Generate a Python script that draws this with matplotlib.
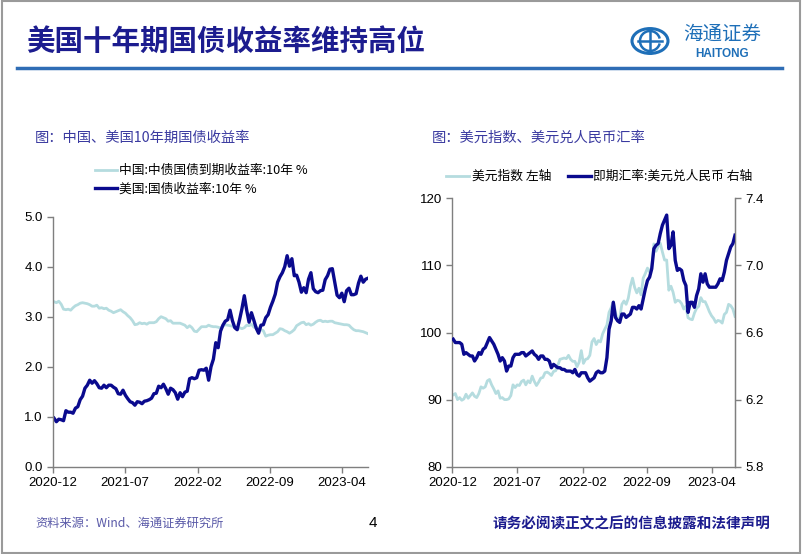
import numpy as np
import pandas as pd
import matplotlib
matplotlib.use("Agg")
import matplotlib.pyplot as plt
import matplotlib.dates as mdates
from matplotlib.lines import Line2D
from matplotlib.patches import Circle, Rectangle, Arc

# ===================== FONTS =====================
plt.rcParams["font.family"] = ["Noto Sans CJK SC", "DejaVu Sans"]
plt.rcParams["axes.unicode_minus"] = False
NUM_FONT = "Liberation Sans"

# ===================== DATA (weekly, Fridays) =====================
# 2020-12-04 .. 2023-06-16
us_10y = [
    0.97, 0.90, 0.95, 0.94,                     # 2020-12
    0.92, 1.12, 1.09, 1.09, 1.07,               # 2021-01
    1.17, 1.20, 1.34, 1.41,                     # 2021-02
    1.57, 1.63, 1.73, 1.67,                     # 2021-03
    1.72, 1.66, 1.58, 1.57, 1.63,               # 2021-04
    1.58, 1.63, 1.63, 1.59,                     # 2021-05
    1.56, 1.46, 1.45, 1.53,                     # 2021-06
    1.43, 1.36, 1.30, 1.28, 1.23,               # 2021-07
    1.30, 1.29, 1.26, 1.31,                     # 2021-08
    1.32, 1.34, 1.37, 1.46,                     # 2021-09
    1.47, 1.61, 1.58, 1.65, 1.56,               # 2021-10
    1.45, 1.57, 1.54, 1.48,                     # 2021-11
    1.35, 1.48, 1.40, 1.49, 1.51,               # 2021-12
    1.76, 1.78, 1.76, 1.78,                     # 2022-01
    1.93, 1.94, 1.93, 1.97,                     # 2022-02
    1.73, 2.00, 2.15, 2.48,                     # 2022-03
    2.38, 2.71, 2.83, 2.91, 2.94,               # 2022-04
    3.13, 2.92, 2.78, 2.74,                     # 2022-05
    2.94, 3.16, 3.42, 3.13,                     # 2022-06
    2.89, 3.08, 2.93, 2.77, 2.67,               # 2022-07
    2.83, 2.84, 2.98, 3.04,                     # 2022-08
    3.19, 3.31, 3.45, 3.69, 3.80,               # 2022-09
    3.88, 4.00, 4.22, 4.01,                     # 2022-10
    4.16, 3.82, 3.83, 3.69,                     # 2022-11
    3.49, 3.58, 3.48, 3.75, 3.88,               # 2022-12
    3.56, 3.50, 3.48, 3.52,                     # 2023-01
    3.53, 3.74, 3.82, 3.95,                     # 2023-02
    3.96, 3.70, 3.43, 3.38, 3.47,               # 2023-03
    3.30, 3.52, 3.57, 3.44,                     # 2023-04
    3.44, 3.46, 3.67, 3.81,                     # 2023-05
    3.69, 3.75, 3.77,                           # 2023-06
]
cn_10y = [
    3.30, 3.28, 3.31, 3.25,
    3.15, 3.14, 3.15, 3.13, 3.18,
    3.22, 3.24, 3.27, 3.28,
    3.27, 3.26, 3.24, 3.21,
    3.21, 3.23, 3.17, 3.18, 3.16,
    3.17, 3.13, 3.11, 3.08,
    3.10, 3.12, 3.14, 3.10,
    3.07, 3.02, 2.98, 2.92, 2.84,
    2.85, 2.88, 2.86, 2.87,
    2.85, 2.88, 2.88, 2.88,
    2.90, 2.96, 3.00, 2.98, 2.96,
    2.91, 2.92, 2.87, 2.87,
    2.87, 2.87, 2.85, 2.83, 2.78,
    2.82, 2.78, 2.71, 2.70,
    2.75, 2.80, 2.80, 2.80,
    2.83, 2.81, 2.80, 2.80,
    2.79, 2.77, 2.81, 2.84, 2.83,
    2.82, 2.81, 2.79, 2.74,
    2.78, 2.76, 2.78, 2.83,
    2.82, 2.85, 2.79, 2.79, 2.76,
    2.74, 2.72, 2.61, 2.63,
    2.64, 2.64, 2.67, 2.70, 2.76,
    2.75, 2.72, 2.70, 2.67,
    2.70, 2.74, 2.82, 2.85,
    2.88, 2.89, 2.84, 2.86, 2.83,
    2.85, 2.89, 2.92, 2.93,
    2.90, 2.91, 2.90, 2.91,
    2.91, 2.88, 2.87, 2.86, 2.85,
    2.84, 2.84, 2.83, 2.78,
    2.74, 2.72, 2.72, 2.71,
    2.70, 2.68, 2.66,
]
dxy = [
    90.7, 90.9, 90.0, 90.3,
    89.9, 90.1, 90.8, 90.2, 90.6,
    91.0, 90.5, 90.3, 90.9,
    91.9, 91.7, 91.9, 92.8,
    93.0, 92.2, 91.6, 90.9, 91.3,
    90.2, 90.3, 90.0, 90.0,
    90.1, 90.6, 92.2, 91.8,
    92.2, 92.1, 92.7, 92.9, 92.2,
    92.8, 92.5, 93.5, 92.7,
    92.1, 92.6, 93.2, 93.3,
    94.0, 94.1, 93.9, 93.6, 94.2,
    94.3, 95.1, 96.0, 96.1,
    96.2, 96.1, 96.6, 96.0, 95.7,
    95.7, 94.9, 95.6, 97.3,
    95.4, 96.0, 96.1, 96.6,
    98.6, 99.1, 98.2, 98.8,
    98.6, 99.8, 100.5, 101.1, 103.0,
    103.7, 104.6, 103.0, 101.7,
    102.2, 104.2, 104.7, 104.2,
    105.1, 106.9, 108.1, 106.7, 105.9,
    106.6, 105.6, 108.1, 108.8,
    109.6, 109.0, 109.8, 113.2, 112.1,
    112.8, 113.3, 112.0, 110.8,
    110.8, 106.3, 106.9, 106.0,
    104.5, 104.8, 104.7, 104.3, 103.5,
    103.9, 102.2, 102.0, 101.9,
    102.9, 103.6, 103.9, 105.2,
    104.6, 104.6, 103.9, 103.1, 102.5,
    102.1, 101.5, 101.8, 101.7,
    101.4, 102.7, 103.0, 104.2,
    104.0, 103.5, 102.4,
]
usdcny = [
    6.56, 6.54, 6.54, 6.54,
    6.53, 6.47, 6.48, 6.47, 6.46,
    6.46, 6.43, 6.45, 6.48,
    6.47, 6.50, 6.51, 6.54,
    6.57, 6.55, 6.53, 6.50, 6.47,
    6.43, 6.45, 6.43, 6.37,
    6.40, 6.40, 6.45, 6.47,
    6.47, 6.47, 6.48, 6.48, 6.46,
    6.47, 6.48, 6.49, 6.47,
    6.46, 6.44, 6.46, 6.46,
    6.44, 6.44, 6.43, 6.39, 6.41,
    6.40, 6.39, 6.39, 6.38,
    6.38, 6.37, 6.37, 6.37, 6.36,
    6.38, 6.35, 6.34, 6.36,
    6.36, 6.36, 6.33, 6.31,
    6.32, 6.33, 6.36, 6.37,
    6.36, 6.36, 6.37, 6.45, 6.62,
    6.67, 6.78, 6.69, 6.67,
    6.66, 6.71, 6.71, 6.69,
    6.70, 6.71, 6.75, 6.75, 6.74,
    6.76, 6.74, 6.80, 6.86,
    6.91, 6.93, 6.98, 7.10, 7.12,
    7.13, 7.19, 7.24, 7.27,
    7.30, 7.10, 7.12, 7.20,
    7.03, 6.97, 6.98, 6.97, 6.91,
    6.88, 6.72, 6.78, 6.78,
    6.75, 6.82, 6.86, 6.95,
    6.90, 6.95, 6.89, 6.87, 6.87,
    6.87, 6.87, 6.89, 6.92,
    6.91, 6.96, 7.03, 7.07,
    7.11, 7.13, 7.18,
]
dates = pd.date_range("2020-12-04", periods=len(us_10y), freq="W-FRI")
assert len(cn_10y) == len(dxy) == len(usdcny) == len(us_10y)

x_ticks = ["2020-12-01", "2021-07-01", "2022-02-01", "2022-09-01", "2023-04-01"]
x_start, x_end = "2020-12-01", "2023-06-16"

LIGHT = "#B5DCDF"
DARK = "#0A0A8E"
AXCOL = "#7F7F7F"
TXT_BLUE = "#3A3AA0"

W, H = 802, 554
fig = plt.figure(figsize=(W / 100, H / 100), dpi=100)


def fx(px):
    return px / W


def fy(py):
    return 1 - py / H


def style_axes(ax, right=False):
    ax.spines["top"].set_visible(False)
    ax.spines["right"].set_visible(right)
    for s in ["left", "bottom", "right"]:
        ax.spines[s].set_color(AXCOL)
        ax.spines[s].set_linewidth(1.0)
    ax.tick_params(colors=AXCOL, labelcolor="black", length=4, width=1.0,
                   labelsize=9.5)
    for lab in ax.get_xticklabels() + ax.get_yticklabels():
        lab.set_fontfamily(NUM_FONT)
    ax.set_xticks(pd.to_datetime(x_ticks))
    ax.xaxis.set_major_formatter(mdates.DateFormatter("%Y-%m"))
    ax.set_xlim(pd.Timestamp(x_start), pd.Timestamp(x_end))


# ----- frame, header -----
fig.add_artist(Rectangle((0.002, 0.002), 0.996, 0.996, transform=fig.transFigure,
                         fill=False, edgecolor="#9A9A9A", lw=1.5))
fig.text(fx(26), fy(42), "美国十年期国债收益率维持高位", fontsize=20.5,
         color="#1C1C8F", va="center", ha="left", fontweight="bold")
fig.add_artist(Line2D([fx(17), fx(782)], [fy(68), fy(68)], color="#2F6DB5", lw=2.5))

# logo
logo_c = "#1E6FB8"
cx, cy = 650, 41
fig.add_artist(Circle((fx(cx), fy(cy)), 18 / W, transform=fig.transFigure,
                      fill=False, edgecolor=logo_c, lw=2.2))
fig.add_artist(Arc((fx(cx), fy(cy)), 20 / W, 20 / H, theta1=20, theta2=340,
                   transform=fig.transFigure, edgecolor=logo_c, lw=1.8))
fig.add_artist(Line2D([fx(cx - 12), fx(cx + 12)], [fy(cy), fy(cy)], color=logo_c, lw=1.8))
fig.add_artist(Line2D([fx(cx), fx(cx)], [fy(cy - 12), fy(cy + 12)], color=logo_c, lw=1.8))
fig.text(fx(722), fy(34), "海通证券", fontsize=14, color=logo_c, ha="center",
         va="center", style="italic")
fig.text(fx(722), fy(54), "HAITONG", fontsize=8.5, color=logo_c, ha="center",
         va="center", fontweight="bold", family=NUM_FONT)

# ----- left chart -----
ax1 = fig.add_axes([fx(53), fy(466.7), fx(368) - fx(53), fy(216.7) - fy(466.7)])
ax1.plot(dates, cn_10y, color=LIGHT, lw=2.0, label="中国:中债国债到期收益率:10年 %")
ax1.plot(dates, us_10y, color=DARK, lw=2.4, label="美国:国债收益率:10年 %")
ax1.set_ylim(0, 5)
ax1.set_yticks(np.arange(0, 5.01, 1.0))
ax1.yaxis.set_major_formatter(plt.FormatStrFormatter("%.1f"))
style_axes(ax1)

fig.text(fx(35), fy(138), "图：中国、美国10年期国债收益率", fontsize=10.3,
         color=TXT_BLUE, va="center")
fig.legend(handles=ax1.get_lines(), loc="upper left",
           bbox_to_anchor=(fx(95), fy(164)), frameon=False, fontsize=9.2,
           handlelength=1.7, handletextpad=0.2, labelspacing=0.45,
           borderaxespad=0, borderpad=0)

# ----- right chart -----
ax2 = fig.add_axes([fx(452.3), fy(466.7), fx(735) - fx(452.3), fy(198.3) - fy(466.7)])
l1, = ax2.plot(dates, dxy, color=LIGHT, lw=2.0, label="美元指数 左轴")
ax2.set_ylim(80, 120)
ax2.set_yticks(np.arange(80, 121, 10))
style_axes(ax2, right=True)

ax3 = ax2.twinx()
l2, = ax3.plot(dates, usdcny, color=DARK, lw=2.4, label="即期汇率:美元兑人民币 右轴")
ax3.set_ylim(5.8, 7.4)
ax3.set_yticks(np.arange(5.8, 7.41, 0.4))
ax3.yaxis.set_major_formatter(plt.FormatStrFormatter("%.1f"))
for s in ["top", "left", "bottom"]:
    ax3.spines[s].set_visible(False)
ax3.spines["right"].set_color(AXCOL)
ax3.tick_params(colors=AXCOL, labelcolor="black", length=4, width=1.0, labelsize=9.5)
for lab in ax3.get_yticklabels():
    lab.set_fontfamily(NUM_FONT)

fig.text(fx(432), fy(138), "图：美元指数、美元兑人民币汇率", fontsize=10.3,
         color=TXT_BLUE, va="center")
fig.legend(handles=[l1, l2], loc="upper left", ncol=2,
           bbox_to_anchor=(fx(446), fy(170)), frameon=False, fontsize=9.2,
           handlelength=1.8, handletextpad=0.2, columnspacing=1.3,
           borderaxespad=0, borderpad=0)

# ----- footer -----
fig.text(fx(35), fy(523), "资料来源：Wind、海通证券研究所", fontsize=8.8,
         color="#5A5AA8", va="center")
fig.text(fx(373), fy(523), "4", fontsize=11, color="black", va="center",
         ha="center", family=NUM_FONT)
fig.text(fx(770), fy(523), "请务必阅读正文之后的信息披露和法律声明", fontsize=10.5,
         color="#1C1C8F", va="center", ha="right", fontweight="bold")

fig.savefig("out.png", dpi=100)
